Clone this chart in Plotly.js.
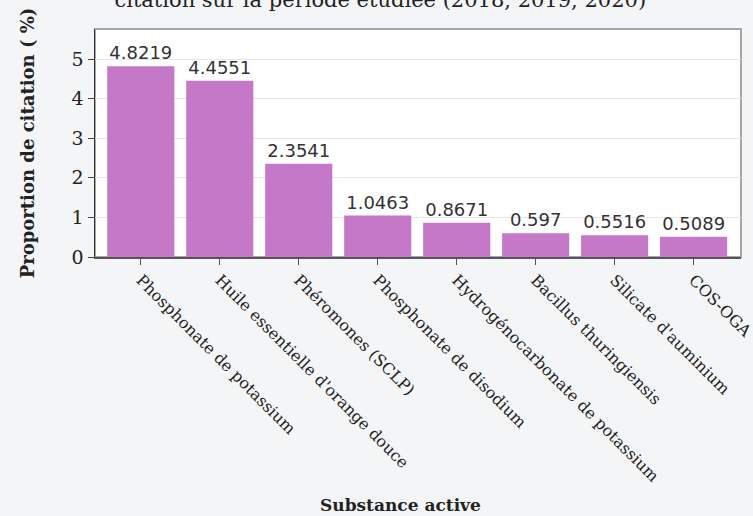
<!DOCTYPE html>
<html>
<head>
<meta charset="utf-8">
<script src="https://cdn.plot.ly/plotly-3.0.1.min.js"></script>
<style>html,body{margin:0;padding:0;background:#f4f5f7;}#chart{width:753px;height:516px;}</style>
</head>
<body>
<div id="chart"></div>
<script>
const substances = [
  "Phosphonate de potassium",
  "Huile essentielle d'orange douce",
  "Phéromones (SCLP)",
  "Phosphonate de disodium",
  "Hydrogénocarbonate de potassium",
  "Bacillus thuringiensis",
  "Silicate d'auminium",
  "COS-OGA"
];
const proportions = [4.8219, 4.4551, 2.3541, 1.0463, 0.8671, 0.597, 0.5516, 0.5089];
const labels = ["4.8219", "4.4551", "2.3541", "1.0463", "0.8671", "0.597", "0.5516", "0.5089"];
const yTicks = [0, 1, 2, 3, 4, 5];

const serif = "DejaVu Serif, Liberation Serif, serif";
const trace = {
  type: "bar",
  x: substances,
  y: proportions,
  text: labels,
  textposition: "outside",
  cliponaxis: false,
  textfont: {family: "DejaVu Sans, sans-serif", size: 18, color: "#333"},
  marker: {color: "#c678c8"},
  hoverinfo: "x+y"
};

const layout = {
  width: 753, height: 516,
  paper_bgcolor: "#f4f5f7",
  plot_bgcolor: "#ffffff",
  margin: {l: 95, r: 12, t: 29, b: 259},
  bargap: 0.15,
  showlegend: false,
  title: {
    text: "citation sur la période étudiée (2018, 2019, 2020)",
    font: {family: serif, size: 21, color: "#222"},
    x: 0.505, xanchor: "center",
    xref: "container", yref: "container",
    y: 1, yanchor: "middle"
  },
  xaxis: {
    type: "category",
    range: [-0.58, 7.6],
    tickangle: 45,
    ticks: "outside", ticklen: 6, tickcolor: "#555",
    showline: true, linecolor: "#555", linewidth: 1.5,
    showgrid: false,
    tickfont: {family: serif, size: 16, color: "#222"}
  },
  yaxis: {
    range: [0, 5.76],
    tickvals: yTicks,
    ticks: "outside", ticklen: 6, tickcolor: "#444",
    showline: true, linecolor: "#333", linewidth: 1.5,
    showgrid: true, gridcolor: "#e6e6e6",
    zeroline: false,
    tickfont: {family: serif, size: 19, color: "#222"},
    title: {text: "<b>Proportion de citation ( %)</b>", font: {family: serif, size: 18, color: "#222"}, standoff: 32}
  },
  annotations: [{
    text: "<b>Substance active</b>",
    xref: "paper", yref: "paper",
    x: (400 - 95) / 646, y: -248 / 228,
    xanchor: "center", yanchor: "middle",
    showarrow: false,
    font: {family: serif, size: 17, color: "#222"}
  }],
  shapes: [{
    type: "rect", xref: "paper", yref: "paper", x0: 0, x1: 1, y0: 0, y1: 1,
    line: {color: "#a6a6a6", width: 2}, layer: "below"
  }]
};

Plotly.newPlot("chart", [trace], layout, {displayModeBar: false, staticPlot: true});
</script>
</body>
</html>
